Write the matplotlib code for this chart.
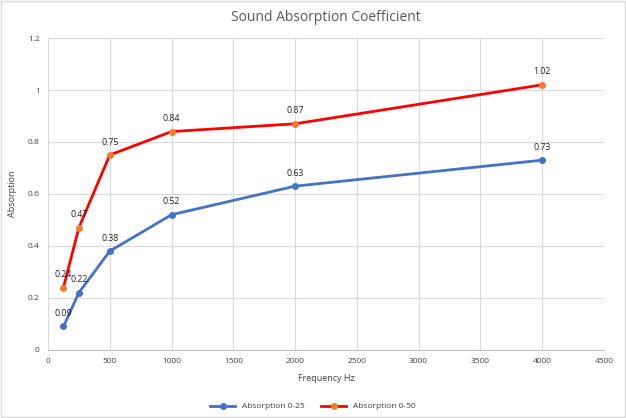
import matplotlib.pyplot as plt
from matplotlib.patches import Rectangle

freq = [125, 250, 500, 1000, 2000, 4000]
abs_25 = [0.09, 0.22, 0.38, 0.52, 0.63, 0.73]
abs_50 = [0.24, 0.47, 0.75, 0.84, 0.87, 1.02]

plt.rcParams['font.family'] = ['Open Sans', 'DejaVu Sans']

fig = plt.figure(figsize=(6.26, 4.18), dpi=100)
ax = fig.add_axes([0.0767, 0.163, 0.888, 0.746])

ax.plot(freq, abs_25, color='#4472C4', lw=2, marker='o', ms=4,
        mfc='#4472C4', mec='#4472C4', label='Absorption 0-25', zorder=3)
ax.plot(freq, abs_50, color='#FF0000', lw=2, marker='o', ms=4,
        mfc='#ED7D31', mec='#ED7D31', label='Absorption 0-50', zorder=3)

for x, y in zip(freq, abs_25):
    ax.annotate(f'{y:g}', (x, y), xytext=(0, 6), textcoords='offset points',
                ha='center', va='bottom', fontsize=6.3, color='#202020')
for x, y in zip(freq, abs_50):
    ax.annotate(f'{y:g}', (x, y), xytext=(0, 6), textcoords='offset points',
                ha='center', va='bottom', fontsize=6.3, color='#202020')

ax.set_xlim(0, 4500)
ax.set_ylim(0, 1.2)
ax.set_xticks(range(0, 4501, 500))
ax.set_yticks([0, 0.2, 0.4, 0.6, 0.8, 1, 1.2])
ax.set_yticklabels(['0', '0.2', '0.4', '0.6', '0.8', '1', '1.2'])
ax.grid(True, color='#D9D9D9', lw=0.8)
ax.set_axisbelow(True)
for s in ['top', 'right', 'left']:
    ax.spines[s].set_visible(False)
ax.spines['bottom'].set_color('#BFBFBF')
ax.tick_params(length=0, labelsize=6, colors='#404040', pad=6)

ax.set_xlabel('Frequency Hz', fontsize=6.5, color='#404040', labelpad=6)
ax.set_ylabel('Absorption', fontsize=6.5, color='#404040', labelpad=8)
ax.set_title('Sound Absorption Coefficient', fontsize=10, color='#595959', pad=12)

fig.legend(loc='lower center', bbox_to_anchor=(0.5, 0.0), ncol=2, frameon=False,
           fontsize=6, labelcolor='#404040', handlelength=3, columnspacing=2)

fig.patches.append(Rectangle((0.002, 0.002), 0.996, 0.996, transform=fig.transFigure,
                             fill=False, ec='#D9D9D9', lw=1))

fig.savefig('out.png', dpi=100)
